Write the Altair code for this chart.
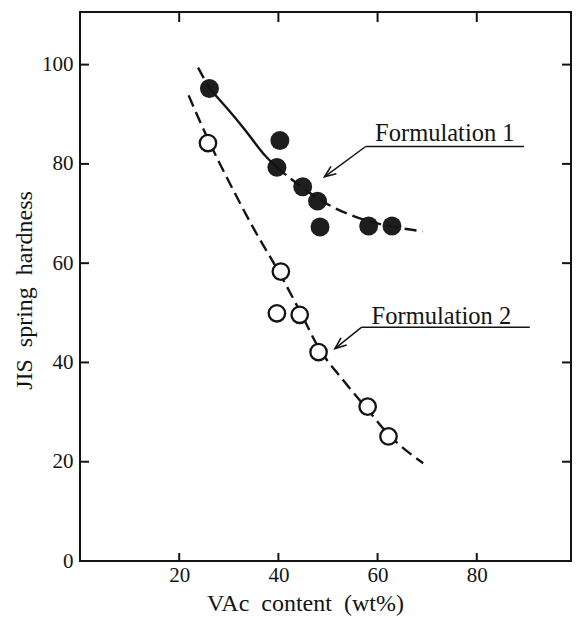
import altair as alt
import pandas as pd

# ---- data ----
f1_x = [26.1, 40.3, 39.7, 44.9, 47.9, 48.4, 58.2, 62.9]
f1_y = [95.2, 84.7, 79.3, 75.4, 72.5, 67.3, 67.5, 67.5]
f2_x = [25.8, 40.5, 39.7, 44.3, 48.1, 58.0, 62.2]
f2_y = [84.2, 58.3, 49.9, 49.6, 42.1, 31.1, 25.1]

# trend curves
c1_x = [23.8, 26.1, 30.0, 33.0, 37.4, 39.7, 42.5, 44.9, 48.0, 50.6, 55.7, 60.0, 65.0, 69.1]
c1_y = [99.4, 95.2, 90.8, 87.2, 81.6, 79.3, 77.0, 75.2, 73.0, 71.5, 69.3, 68.0, 67.0, 66.4]
c2_x = [21.9, 25.8, 30.5, 35.0, 40.5, 44.5, 48.1, 53.0, 58.0, 62.2, 69.2]
c2_y = [93.8, 85.0, 75.5, 67.0, 57.5, 50.0, 43.0, 36.5, 30.5, 25.5, 19.7]

x_labels = [20, 40, 60, 80]
y_labels = [0, 20, 40, 60, 80, 100]
side_ticks = [20, 40, 60, 80, 100]

labels = ["Formulation 1", "Formulation 2"]
label_x = [59.5, 58.8]
label_y = [84.6, 47.8]
under_x = [57.6, 56.8]
under_x2 = [89.5, 90.7]
under_y = [83.5, 47.1]
tip_x = [49.3, 51.4]
tip_y = [77.4, 42.8]

W, H = 491, 549
FONT = "Liberation Serif"
INK = "#141414"

xs = alt.Scale(domain=[0, 99], nice=False, zero=False)
ys = alt.Scale(domain=[0, 110.6], nice=False, zero=False)
X_TITLE = "VAc\u00a0\u00a0content\u00a0\u00a0(wt%)"
Y_TITLE = "JIS\u00a0\u00a0spring\u00a0\u00a0hardness"
xaxis = alt.Axis(values=x_labels, ticks=False, tickSize=0, domain=False, grid=False,
                 labelPadding=3, titleX=225, titleY=49, titleBaseline="alphabetic",
                 titleAlign="center")
yaxis = alt.Axis(values=y_labels, ticks=False, tickSize=0, domain=False, grid=False,
                 labelPadding=7, titleX=-49, titleY=278, titleAngle=270,
                 titleBaseline="alphabetic", titleAlign="center")


def X(f):
    return alt.X(f, scale=xs, axis=xaxis, title=X_TITLE)


def Y(f):
    return alt.Y(f, scale=ys, axis=yaxis, title=Y_TITLE)


pts1 = pd.DataFrame({"x": f1_x, "y": f1_y})
pts2 = pd.DataFrame({"x": f2_x, "y": f2_y})
cur1 = pd.DataFrame({"x": c1_x, "y": c1_y})
cur2 = pd.DataFrame({"x": c2_x, "y": c2_y})

c1_pre = cur1[cur1.x <= 26.1]
c1_solid = cur1[(cur1.x >= 26.1) & (cur1.x <= 39.7)]
c1_post = cur1[cur1.x >= 39.7]


def line(df, dash):
    kw = dict(color=INK, strokeWidth=2.4, interpolate="monotone")
    if dash:
        kw["strokeDash"] = [12, 6]
    return alt.Chart(df).mark_line(**kw).encode(x=X("x:Q"), y=Y("y:Q"))


lines = [line(c1_pre, True), line(c1_solid, False), line(c1_post, True), line(cur2, True)]

open_pts = alt.Chart(pts2).mark_point(
    shape="circle", size=270, filled=True, fill="white", stroke=INK, strokeWidth=2.3, opacity=1
).encode(x=X("x:Q"), y=Y("y:Q"))

filled_pts = alt.Chart(pts1).mark_point(
    shape="circle", size=360, filled=True, color="#1e1e1e", opacity=1
).encode(x=X("x:Q"), y=Y("y:Q"))

# inward tick marks on all four sides
lt = pd.DataFrame({"v": side_ticks})
bt = pd.DataFrame({"v": x_labels})
tick_left = alt.Chart(lt).mark_rule(color=INK, strokeWidth=2).encode(
    y=Y("v:Q"), x=alt.value(0), x2=alt.value(9))
tick_right = alt.Chart(lt).mark_rule(color=INK, strokeWidth=2).encode(
    y=Y("v:Q"), x=alt.value(W - 9), x2=alt.value(W))
tick_top = alt.Chart(bt).mark_rule(color=INK, strokeWidth=2).encode(
    x=X("v:Q"), y=alt.value(0), y2=alt.value(10))
tick_bottom = alt.Chart(bt).mark_rule(color=INK, strokeWidth=2).encode(
    x=X("v:Q"), y=alt.value(H - 8), y2=alt.value(H))

ann = pd.DataFrame({"label": labels, "lx": label_x, "ly": label_y,
                    "ux": under_x, "ux2": under_x2, "uy": under_y,
                    "tx": tip_x, "ty": tip_y})

ann_text = alt.Chart(ann).mark_text(
    font=FONT, fontSize=24.5, align="left", baseline="alphabetic", color=INK
).encode(x=X("lx:Q"), y=Y("ly:Q"), text="label:N")

underline = alt.Chart(ann).mark_rule(color=INK, strokeWidth=1.5).encode(
    x=X("ux:Q"), x2="ux2:Q", y=Y("uy:Q"), y2="uy:Q")
leader = alt.Chart(ann).mark_rule(color=INK, strokeWidth=1.5).encode(
    x=X("ux:Q"), x2="tx:Q", y=Y("uy:Q"), y2="ty:Q")

ARROW = "M -1 -0.4 L 0 0 L -1 0.4"
head1 = alt.Chart(ann.iloc[[0]]).mark_point(
    shape=ARROW, size=520, filled=False, stroke=INK, strokeWidth=1.6, angle=143.7, opacity=1
).encode(x=X("tx:Q"), y=Y("ty:Q"))
head2 = alt.Chart(ann.iloc[[1]]).mark_point(
    shape=ARROW, size=520, filled=False, stroke=INK, strokeWidth=1.6, angle=141.5, opacity=1
).encode(x=X("tx:Q"), y=Y("ty:Q"))

chart = alt.layer(
    filled_pts, *lines, open_pts,
    tick_left, tick_right, tick_top, tick_bottom,
    underline, leader, head1, head2, ann_text,
).properties(
    width=W, height=H,
    padding={"left": 80, "top": 12, "right": 10, "bottom": 57},
    autosize=alt.AutoSizeParams(type="none"),
    background="white",
).configure_view(
    stroke=INK, strokeWidth=2
).configure_axis(
    labelFont=FONT, labelFontSize=21, labelColor=INK,
    titleFont=FONT, titleFontSize=24, titleColor=INK, titleFontWeight="normal",
)

chart.save("out.html", embed_options={"renderer": "svg", "actions": False})
